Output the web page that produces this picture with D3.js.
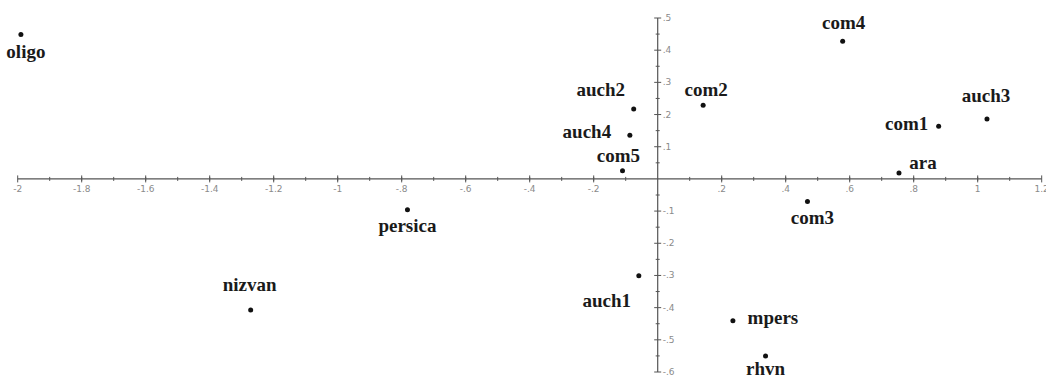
<!DOCTYPE html>
<html>
<head>
<meta charset="utf-8">
<script src="https://cdn.jsdelivr.net/npm/d3@7"></script>
<style>
  html, body { margin: 0; padding: 0; background: #fff; overflow: hidden; }
  .tick-label { font-family: "DejaVu Sans", sans-serif; font-size: 9px; fill: #8a8a8a; }
  .pt-label { font-family: "Liberation Serif", serif; font-weight: bold; font-size: 19px; fill: #1a1a1a; }
</style>
</head>
<body>
<svg id="chart"></svg>
<script>
// ordination scores
const names = ["oligo", "auch2", "auch4", "com5", "com2", "com4", "auch3", "com1",
  "ara", "com3", "auch1", "mpers", "rhvn", "persica", "nizvan"];
const axis1 = [-1.99, -0.075, -0.087, -0.110, 0.142, 0.578, 1.029, 0.878,
  0.754, 0.468, -0.059, 0.235, 0.337, -0.782, -1.272];
const axis2 = [0.449, 0.217, 0.136, 0.025, 0.229, 0.428, 0.186, 0.164,
  0.018, -0.070, -0.301, -0.441, -0.550, -0.096, -0.407];

// tick values
const xTicks = [-2, -1.8, -1.6, -1.4, -1.2, -1, -0.8, -0.6, -0.4, -0.2, 0.2, 0.4, 0.6, 0.8, 1, 1.2];
const yTicks = [0.5, 0.4, 0.3, 0.2, 0.1, -0.1, -0.2, -0.3, -0.4, -0.5, -0.6];

// label placement relative to its dot [dx, dy]
const labelOffsets = {
  oligo: [5, 24], auch2: [-33, -13], auch4: [-43, 3], com5: [-4, -9],
  com2: [3, -9], com4: [1, -12], auch3: [-1, -17], com1: [-32, 4],
  ara: [24, -4], com3: [5, 23], auch1: [-32, 31], mpers: [40, 3],
  rhvn: [0, 19], persica: [0, 22], nizvan: [-1, -19]
};

const w = 1046;
const h = 377;

const svg = d3.select("#chart").attr("width", w).attr("height", h);

const xScale = d3.scaleLinear().domain([-2, 1.2]).range([17.7, 1041.7]);
const yScale = d3.scaleLinear().domain([-0.6, 0.5]).range([372, 18]);

const x0 = xScale(0);
const y0 = yScale(0);
const axisColour = "#555";

// drop the leading zero like ".2" and "-.8"
const fmt = (v) => String(+v.toFixed(1)).replace(/^(-?)0\./, "$1.");

// minor ticks every 0.1
const xMinor = d3.range(-19, 12).map((i) => i / 10).filter((v) => Math.abs(v) > 1e-9);
const yMinor = d3.range(-6, 5).map((i) => i / 10 + 0.05);

// horizontal axis
const gx = svg.append("g").attr("transform", `translate(0,${y0})`);
gx.append("line")
  .attr("x1", xScale(-2)).attr("x2", xScale(1.2))
  .attr("stroke", axisColour).attr("stroke-width", 1.2);
gx.selectAll(".minor")
  .data(xMinor)
  .enter()
  .append("line")
  .attr("x1", (d) => xScale(d)).attr("x2", (d) => xScale(d))
  .attr("y1", -2).attr("y2", 2)
  .attr("stroke", axisColour);
gx.selectAll(".major")
  .data(xTicks)
  .enter()
  .append("line")
  .attr("x1", (d) => xScale(d)).attr("x2", (d) => xScale(d))
  .attr("y1", -3.5).attr("y2", 3.5)
  .attr("stroke", axisColour);
gx.selectAll("text")
  .data(xTicks)
  .enter()
  .append("text")
  .attr("class", "tick-label")
  .attr("x", (d) => xScale(d))
  .attr("y", 13)
  .attr("text-anchor", "middle")
  .text(fmt);

// vertical axis
const gy = svg.append("g").attr("transform", `translate(${x0},0)`);
gy.append("line")
  .attr("y1", yScale(0.5)).attr("y2", yScale(-0.6))
  .attr("stroke", axisColour).attr("stroke-width", 1.2);
gy.selectAll(".minor")
  .data(yMinor)
  .enter()
  .append("line")
  .attr("y1", (d) => yScale(d)).attr("y2", (d) => yScale(d))
  .attr("x1", -2).attr("x2", 2)
  .attr("stroke", axisColour);
gy.selectAll(".major")
  .data(yTicks)
  .enter()
  .append("line")
  .attr("y1", (d) => yScale(d)).attr("y2", (d) => yScale(d))
  .attr("x1", -3.5).attr("x2", 3.5)
  .attr("stroke", axisColour);
gy.selectAll("text.tick-label")
  .data(yTicks)
  .enter()
  .append("text")
  .attr("class", "tick-label")
  .attr("x", 5)
  .attr("y", (d) => yScale(d) + 3)
  .text(fmt);

// points
const data = names.map((n, i) => ({ name: n, x: axis1[i], y: axis2[i] }));

svg.selectAll("circle")
  .data(data)
  .enter()
  .append("circle")
  .attr("cx", (d) => xScale(d.x))
  .attr("cy", (d) => yScale(d.y))
  .attr("r", 2.5)
  .attr("fill", "#111");

svg.selectAll(".pt-label")
  .data(data)
  .enter()
  .append("text")
  .attr("class", "pt-label")
  .attr("x", (d) => xScale(d.x) + labelOffsets[d.name][0])
  .attr("y", (d) => yScale(d.y) + labelOffsets[d.name][1])
  .attr("text-anchor", "middle")
  .text((d) => d.name);
</script>
</body>
</html>
